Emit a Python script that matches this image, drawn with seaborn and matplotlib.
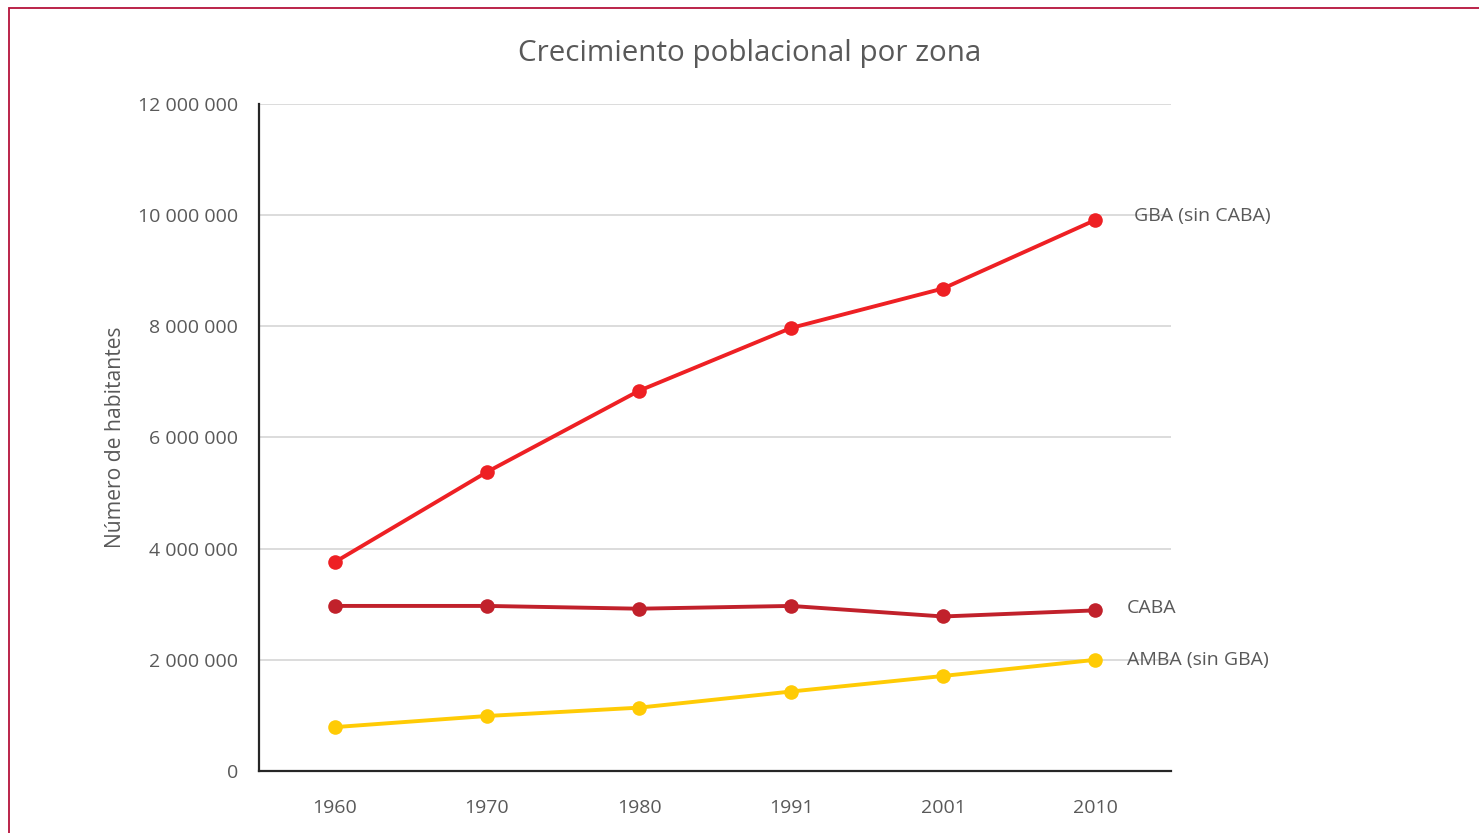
import pandas as pd
import matplotlib.pyplot as plt
import matplotlib.ticker as mticker
from matplotlib.patches import Rectangle
import seaborn as sns

# Datos (habitantes por censo)
anios = ["1960", "1970", "1980", "1991", "2001", "2010"]
gba = [3760000, 5380000, 6840000, 7970000, 8680000, 9910000]
caba = [2970000, 2970000, 2920000, 2970000, 2780000, 2890000]
amba = [790000, 990000, 1140000, 1430000, 1710000, 2000000]

series = ["GBA (sin CABA)", "CABA", "AMBA (sin GBA)"]
colores = ["#EE2024", "#C1212B", "#FFCB05"]

df = pd.DataFrame({
    "Año": anios * 3,
    "Habitantes": gba + caba + amba,
    "Zona": [series[0]] * 6 + [series[1]] * 6 + [series[2]] * 6,
})

sns.set_style("white")
plt.rcParams["font.family"] = ["Open Sans", "DejaVu Sans"]

gris = "#595959"

fig = plt.figure(figsize=(14.79, 8.33), dpi=100)
ax = fig.add_axes([0.1751, 0.0744, 0.6167, 0.8008])

sns.lineplot(
    data=df, x="Año", y="Habitantes", hue="Zona",
    palette=colores, marker="o", markersize=10.5, markeredgewidth=0,
    linewidth=2.8, legend=False, ax=ax, sort=False
)

ax.set_xlim(-0.5, 5.5)
ax.set_ylim(0, 12000000)
ax.yaxis.set_major_locator(mticker.MultipleLocator(2000000))
ax.yaxis.set_major_formatter(mticker.FuncFormatter(lambda v, p: f"{v:,.0f}".replace(",", " ")))
ax.grid(axis="y", color="#d9d9d9", linewidth=1.3)
ax.set_axisbelow(True)

for lado in ["top", "right"]:
    ax.spines[lado].set_visible(False)
for lado in ["left", "bottom"]:
    ax.spines[lado].set_color("#262626")
    ax.spines[lado].set_linewidth(1.6)

ax.tick_params(axis="both", length=0, labelsize=14, labelcolor=gris)
ax.tick_params(axis="y", pad=15)
ax.tick_params(axis="x", pad=20)

ax.set_xlabel("")
ax.set_ylabel("Número de habitantes", fontsize=15.2, color=gris, labelpad=9)

fig.text(0.507, 0.936, "Crecimiento poblacional por zona", fontsize=21.3,
         color=gris, ha="center", va="center")

# Etiquetas al final de cada serie
finales = [gba[-1], caba[-1], amba[-1]]
offsets = [(28, 3), (23, 2), (23, 0)]
for nombre, valor, off in zip(series, finales, offsets):
    ax.annotate(nombre, xy=(5, valor), xytext=off, textcoords="offset points",
                ha="left", va="center", fontsize=14, color=gris, annotation_clip=False)

# Marco exterior
fig.add_artist(Rectangle((0.0058, -0.1), 1.2, 0.1 + 0.9898, fill=False,
                         edgecolor="#B5123C", linewidth=1.3,
                         transform=fig.transFigure, clip_on=False))

plt.savefig("out.png", dpi=100)
